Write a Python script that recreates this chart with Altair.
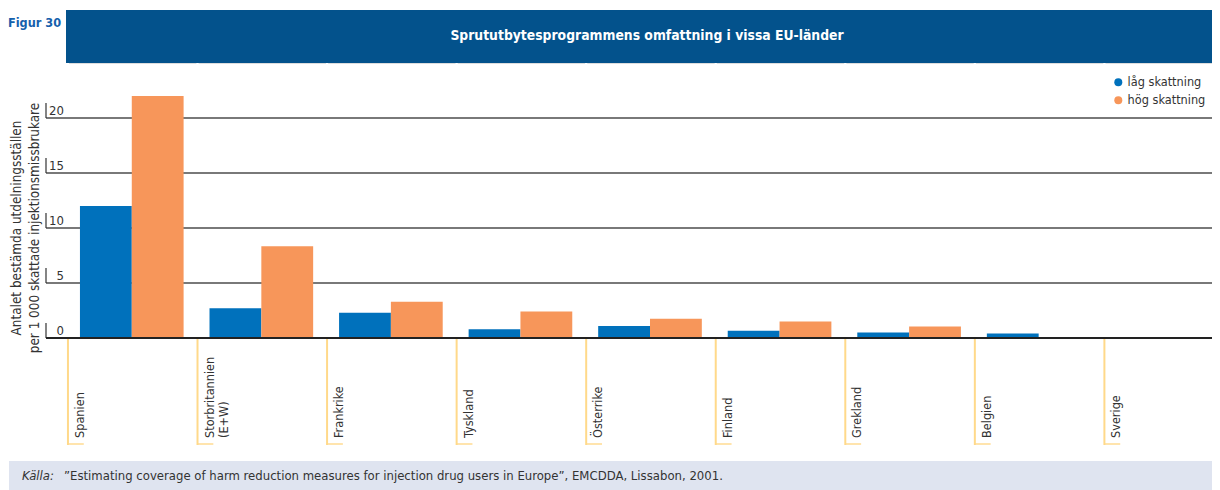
import altair as alt
import pandas as pd

# ---------------- data ----------------
laender = ["Spanien", "Storbritannien\n(E+W)", "Frankrike", "Tyskland", "Österrike",
           "Finland", "Grekland", "Belgien", "Sverige"]
serier = ["låg skattning", "hög skattning"]
lag = [12.0, 2.7, 2.3, 0.8, 1.1, 0.65, 0.5, 0.4, 0.1]
hog = [22.0, 8.35, 3.3, 2.4, 1.75, 1.5, 1.05, 0.0, 0.08]
tick_vals = [5, 10, 15, 20]
tick_labels = ["0", "5", "10", "15", "20"]
tick_all = [0, 5, 10, 15, 20]

title_text = "Sprututbytesprogrammens omfattning i vissa EU-länder"
figur_text = "Figur 30"
ytitle_lines = ["Antalet bestämda utdelningsställen", "per 1 000 skattade injektionsmissbrukare"]
kalla_label = "Källa:"
kalla_text = "\u201dEstimating coverage of harm reduction measures for injection drug users in Europe\u201d, EMCDDA, Lissabon, 2001."

FONT = "'Liberation Sans Narrow', 'DejaVu Sans Condensed', 'Arial Narrow', 'Roboto', sans-serif"
BLUE = "#0071BC"
ORANGE = "#F7965A"
BANNER = "#03528C"
TXT = "#333333"

bars_df = pd.DataFrame({
    "land": laender * 2,
    "serie": [serier[0]] * len(laender) + [serier[1]] * len(laender),
    "value": lag + hog,
})
land_df = pd.DataFrame({"land": laender})
ticks_df = pd.DataFrame({"v": tick_all, "lab": tick_labels})
grid_df = pd.DataFrame({"v": tick_vals})
one = pd.DataFrame({"k": [0]})

W, H = 1145, 275
xscale = alt.Scale(domain=laender, range=[0, 1166], paddingInner=0.2, paddingOuter=0.1)
yscale = alt.Scale(domain=[0, 25], nice=False, zero=True)

def xfield(bp=0):
    return alt.X("land:N", scale=xscale, axis=None, bandPosition=bp)

# banner + title
banner = alt.Chart(one).mark_rect(color=BANNER).encode(
    x=alt.value(-1), x2=alt.value(W + 2), y=alt.value(-53), y2=alt.value(0))
title = alt.Chart(one).mark_text(text=title_text, color="white", font=FONT, fontSize=13.8,
                                 fontWeight="bold", align="center", baseline="middle").encode(
    x=alt.value(580), y=alt.value(-27))
figur = alt.Chart(one).mark_text(text=figur_text, color="#1560AC", font=FONT, fontSize=12.6,
                                 fontWeight="bold", align="left", baseline="middle").encode(
    x=alt.value(-59), y=alt.value(-40))

# white category separators inside plot
sep = alt.Chart(land_df).mark_rule(color="white", strokeWidth=2.2, xOffset=-12).encode(
    x=xfield(0), y=alt.value(0), y2=alt.value(H))

# gridlines
grid = alt.Chart(grid_df).mark_rule(color="#4D4D4D", strokeWidth=1.5).encode(
    x=alt.value(-21), x2=alt.value(W + 2),
    y=alt.Y("v:Q", scale=yscale, axis=None))
brackets = alt.Chart(ticks_df).mark_rule(color="#333333", strokeWidth=1.2, y2Offset=-15).encode(
    x=alt.value(-21),
    y=alt.Y("v:Q", scale=yscale, axis=None), y2="v:Q")
ticklab = alt.Chart(ticks_df).mark_text(font=FONT, fontSize=13, color=TXT, align="right",
                                        baseline="alphabetic", dy=-3).encode(
    x=alt.value(-3), y=alt.Y("v:Q", scale=yscale, axis=None), text="lab:N")

# bars
bars = alt.Chart(bars_df).mark_bar(clip=True).encode(
    x=alt.X("land:N", scale=xscale, axis=None),
    xOffset=alt.XOffset("serie:N", sort=serier, scale=alt.Scale(paddingInner=0, paddingOuter=0)),
    y=alt.Y("value:Q", scale=yscale, axis=None),
    color=alt.Color("serie:N", sort=serier,
                    scale=alt.Scale(domain=serier, range=[BLUE, ORANGE]),
                    legend=alt.Legend(title=None, orient="none", legendX=1045, legendY=13,
                                      symbolType="circle", symbolSize=64, symbolStrokeWidth=0,
                                      labelFont=FONT, labelFontSize=12.6, labelColor=TXT,
                                      padding=0, rowPadding=5, labelOffset=3)),
)

baseline = alt.Chart(one).mark_rule(color="#222222", strokeWidth=2).encode(
    x=alt.value(-21), x2=alt.value(W + 2), y=alt.value(H))

# category label guides below the plot
low = alt.Chart(land_df).mark_rule(color="#FFD98A", strokeWidth=2, xOffset=-12).encode(
    x=xfield(0), y=alt.value(H + 1), y2=alt.value(382))
foot = alt.Chart(land_df).mark_tick(color="#FFD98A", orient="horizontal", size=16, thickness=2,
                                    xOffset=-56).encode(
    x=xfield(0), y=alt.value(381))
catlab = alt.Chart(land_df).mark_text(font=FONT, fontSize=12.6, color=TXT, angle=270, align="left",
                                      baseline="top", lineBreak="\n", xOffset=-6).encode(
    x=xfield(0), y=alt.value(375), text="land:N")

# y title
ytitle = alt.Chart(pd.DataFrame({"t": ytitle_lines, "xp": [-50, -32]})).mark_text(
    font=FONT, fontSize=13.4, color=TXT, angle=270, align="center", baseline="middle").encode(
    x=alt.X("xp:Q", scale=None), y=alt.value(165), text="t:N")

# source band
src_band = alt.Chart(one).mark_rect(color="#DFE4F0").encode(
    x=alt.value(-58), x2=alt.value(W + 2), y=alt.value(398), y2=alt.value(430))
src1 = alt.Chart(one).mark_text(text=kalla_label, font=FONT, fontSize=13, fontStyle="italic",
                                color=TXT, align="left", baseline="middle").encode(
    x=alt.value(-45), y=alt.value(413))
src2 = alt.Chart(one).mark_text(text=kalla_text, font=FONT, fontSize=13,
                                color=TXT, align="left", baseline="middle").encode(
    x=alt.value(-3), y=alt.value(413))

chart = alt.layer(
    banner, title, figur, sep, grid, brackets, ticklab, bars, baseline,
    low, foot, catlab, ytitle, src_band, src1, src2
).properties(
    width=W, height=H,
    autosize=alt.AutoSizeParams(type="none"),
    padding={"left": 59, "top": 55, "right": 0, "bottom": 152},
).configure_view(
    fill="#FDF0C0", stroke=None
).configure(background="white")

chart.save("out.html", embed_options={"renderer": "svg", "actions": False})
